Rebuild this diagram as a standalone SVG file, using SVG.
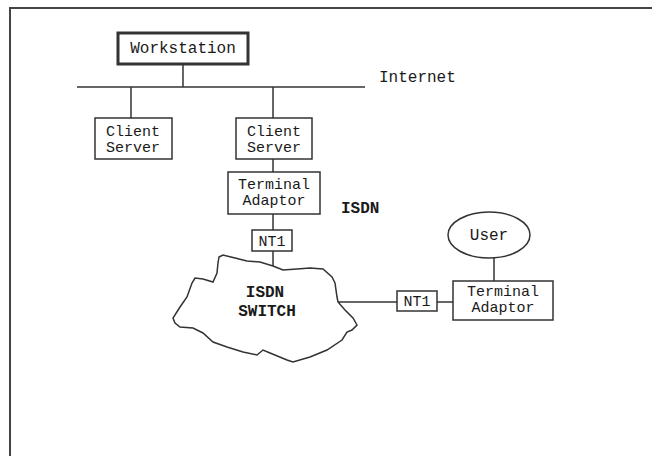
<svg xmlns="http://www.w3.org/2000/svg" width="652" height="456" viewBox="0 0 652 456">
<style>
  .box{fill:#fff;stroke:#333;stroke-width:1.5}
  .ln{fill:none;stroke:#333;stroke-width:1.5}
  .t{font-family:"Liberation Mono","DejaVu Sans Mono",monospace;font-size:16px;fill:#1a1a1a;text-anchor:middle}
  .s{font-size:15px}
  .b{font-weight:bold}
  .l{text-anchor:start}
</style>
<rect width="652" height="456" fill="#fff"/>
<path d="M10,456 V8 H652" fill="none" stroke="#444" stroke-width="2"/>
<g id="connectors">
  <line class="ln" x1="77" y1="87" x2="365" y2="87"/>
  <line class="ln" x1="183" y1="64" x2="183" y2="87"/>
  <line class="ln" x1="131" y1="87" x2="131" y2="118"/>
  <line class="ln" x1="273" y1="87" x2="273" y2="118"/>
  <line class="ln" x1="273" y1="159" x2="273" y2="172"/>
  <line class="ln" x1="273" y1="214" x2="273" y2="230"/>
  <line class="ln" x1="273" y1="251" x2="273" y2="266"/>
  <line class="ln" x1="338" y1="302" x2="397" y2="302"/>
  <line class="ln" x1="437" y1="302" x2="453" y2="302"/>
  <line class="ln" x1="494" y1="258" x2="494" y2="281"/>
</g>
<g id="internet-label"><text class="t l" x="379" y="82">Internet</text></g>
<g id="isdn-label"><text class="t l b" x="341" y="213">ISDN</text></g>
<g id="workstation">
  <rect x="118" y="33" width="130" height="31" fill="#fff" stroke="#333" stroke-width="3"/>
  <text class="t" x="183" y="53">Workstation</text>
</g>
<g id="client-server-1">
  <rect class="box" x="95" y="118" width="77" height="41"/>
  <text class="t s" x="133" y="136">Client</text>
  <text class="t s" x="133" y="152">Server</text>
</g>
<g id="client-server-2">
  <rect class="box" x="236" y="118" width="76" height="41"/>
  <text class="t s" x="274" y="136">Client</text>
  <text class="t s" x="274" y="152">Server</text>
</g>
<g id="terminal-adaptor-1">
  <rect class="box" x="228" y="172" width="92" height="42"/>
  <text class="t s" x="274" y="189">Terminal</text>
  <text class="t s" x="274" y="205">Adaptor</text>
</g>
<g id="nt1-1">
  <rect class="box" x="252" y="230" width="40" height="21"/>
  <text class="t s" x="272" y="246">NT1</text>
</g>
<g id="isdn-switch">
  <path class="ln" fill="#fff" d="M219,257 L223,255 L235,258 L247,261 L260,262 L273,266 L283,270 L297,269 L310,268 L323,269 L332,277 L335,283 L337,297 L338,302 L345,310 L353,318 L357,325 L352,330 L347,332 L342,340 L327,350 L310,357 L293,362 L287,360 L270,353 L263,350 L257,355 L243,352 L227,347 L213,342 L203,333 L193,328 L180,327 L175,323 L173,318 L180,307 L187,297 L192,283 L195,278 L203,279 L213,282 L217,273 L218,263 Z"/>
  <text class="t b" x="265" y="297">ISDN</text>
  <text class="t b" x="267" y="316">SWITCH</text>
</g>
<g id="nt1-2">
  <rect class="box" x="397" y="291" width="40" height="20"/>
  <text class="t s" x="417" y="306">NT1</text>
</g>
<g id="terminal-adaptor-2">
  <rect class="box" x="453" y="281" width="100" height="39"/>
  <text class="t s" x="503" y="296">Terminal</text>
  <text class="t s" x="503" y="312">Adaptor</text>
</g>
<g id="user">
  <ellipse class="box" cx="489" cy="235" rx="41" ry="23"/>
  <text class="t" x="489" y="240">User</text>
</g>
</svg>
